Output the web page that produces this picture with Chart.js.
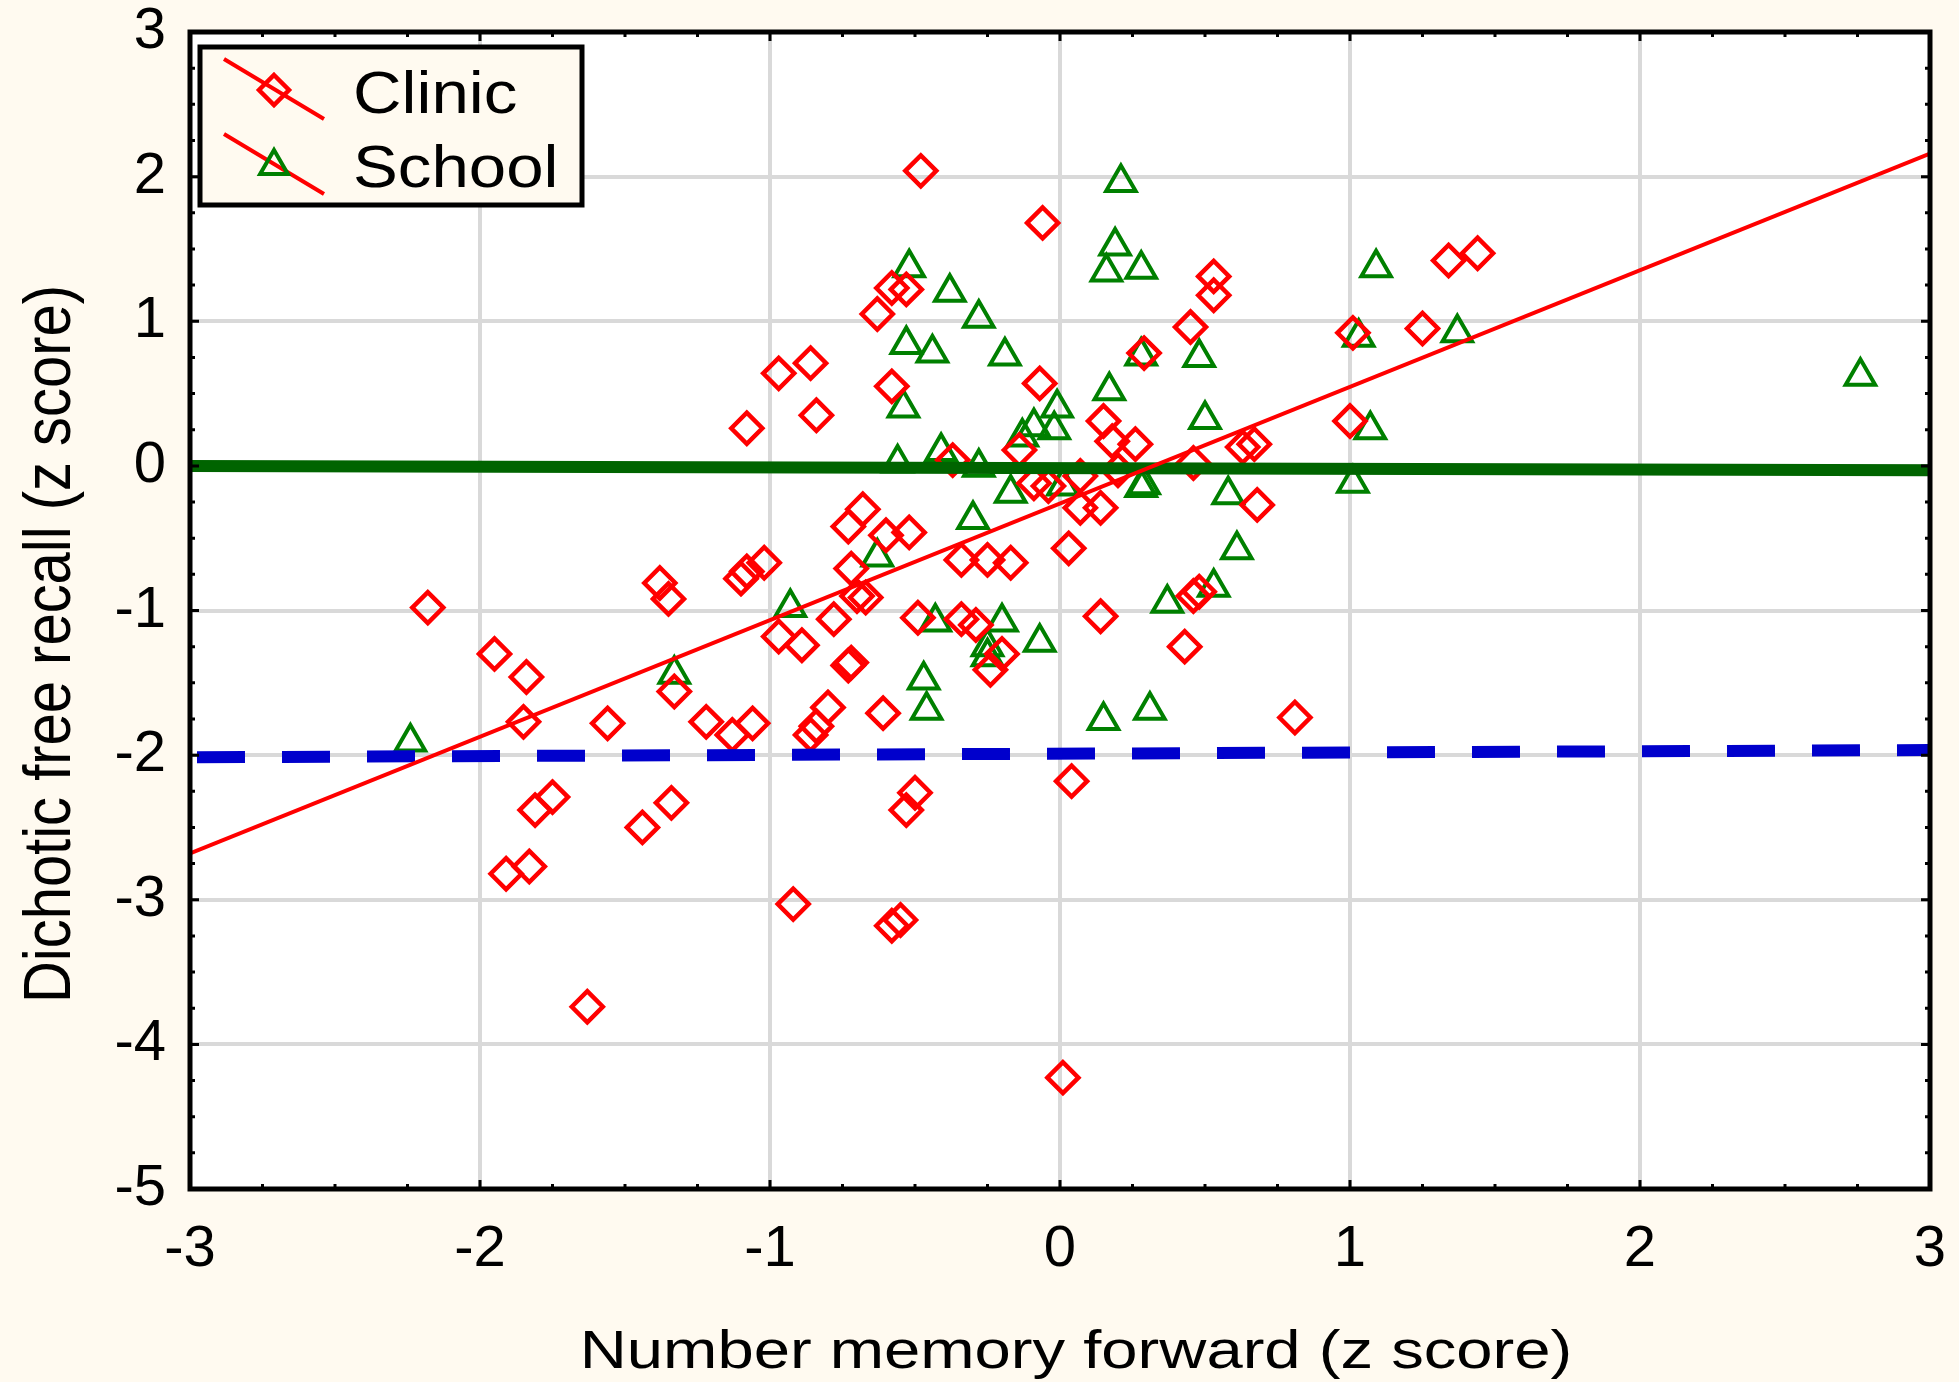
<!DOCTYPE html>
<html>
<head>
<meta charset="utf-8">
<script src="https://cdn.jsdelivr.net/npm/chart.js@4.4.1/dist/chart.umd.min.js"></script>
<style>
    html, body { margin: 0; padding: 0; background: #fffaf0; }
    canvas { display: block; }
</style>
</head>
<body>
<canvas id="GraphiqueRappel" width="1959" height="1382"></canvas>
<script>
var seriesNames = ['Clinic', 'School'];
var xTicks = [-3, -2, -1, 0, 1, 2, 3];
var yTicks = [-5, -4, -3, -2, -1, 0, 1, 2, 3];
var xTitle = 'Number memory forward (z score)';
var yTitle = 'Dichotic free recall (z score)';

// Clinic (red diamonds)
var clinicX = [-0.48, -0.06, -0.58, -0.53, -0.63, -0.97, -0.86, -0.84, -1.08, -0.58,
    -0.07, 0.53, 0.53, 0.45, 0.29, 1.01, 1.25, 1.34, 1.44, 1.00,
    0.15, 0.18, 0.26, -0.14, -0.37, 0.63, 0.67, 0.46, 0.68, -0.09,
    -0.04, 0.07, 0.20, 0.07, 0.14, 0.03, -0.68, -0.73, -0.60, -0.52,
    -0.34, -0.25, -0.17, -0.72, -0.70, -0.67, -1.38, -1.35, -1.10, -1.08,
    -1.02, -0.78, -0.97, -0.89, -0.73, -0.72, -0.49, -0.34, -0.29, -0.20,
    -0.24, 0.14, 0.46, 0.48, 0.43, -1.33, -2.18, -1.95, -1.84, -1.85,
    -1.56, -1.22, -1.13, -1.06, -0.80, -0.84, -0.86, -0.61, 0.81, 0.04,
    -0.50, -0.53, -1.81, -1.75, -1.44, -1.34, -1.91, -1.83, -0.92, -0.58,
    -0.55, -1.63, 0.01];
var clinicY = [2.04, 1.68, 1.23, 1.22, 1.05, 0.64, 0.71, 0.35, 0.26, 0.55,
    0.57, 1.31, 1.18, 0.96, 0.78, 0.92, 0.95, 1.42, 1.47, 0.31,
    0.31, 0.17, 0.15, 0.11, 0.04, 0.13, 0.15, 0.02, -0.27, -0.12,
    -0.14, -0.07, -0.03, -0.29, -0.29, -0.57, -0.30, -0.42, -0.48, -0.46,
    -0.65, -0.65, -0.67, -0.71, -0.90, -0.91, -0.81, -0.92, -0.78, -0.73,
    -0.67, -1.06, -1.18, -1.24, -1.38, -1.36, -1.05, -1.06, -1.10, -1.30,
    -1.41, -1.04, -0.90, -0.87, -1.25, -1.56, -0.98, -1.30, -1.46, -1.77,
    -1.78, -1.77, -1.86, -1.78, -1.67, -1.80, -1.86, -1.71, -1.74, -2.18,
    -2.26, -2.38, -2.38, -2.29, -2.50, -2.33, -2.82, -2.77, -3.03, -3.18,
    -3.14, -3.74, -4.23];

// School (green triangles)
var schoolX = [0.21, 0.19, 0.16, 0.28, -0.52, -0.38, -0.28, -0.53, -0.44, -0.19,
    0.28, 0.48, 0.17, 0.50, -0.54, -0.56, -0.41, -0.28, -0.13, -0.09,
    -0.02, -0.01, -0.17, -0.30, 0.01, 0.28, 0.29, 0.58, 1.09, 1.37,
    1.03, 2.76, 1.07, 1.01, -0.63, -0.93, -0.43, -0.20, -0.25, -0.25,
    -0.07, -0.47, -0.46, -1.33, -2.24, 0.61, 0.53, 0.37, 0.15, 0.31];
var schoolY = [1.96, 1.52, 1.34, 1.36, 1.37, 1.20, 1.02, 0.84, 0.78, 0.76,
    0.76, 0.75, 0.52, 0.32, 0.40, 0.02, 0.10, -0.01, 0.20, 0.27,
    0.25, 0.40, -0.19, -0.37, -0.14, -0.15, -0.13, -0.20, 1.37, 0.92,
    0.89, 0.62, 0.25, -0.12, -0.63, -0.98, -1.08, -1.08, -1.25, -1.32,
    -1.22, -1.48, -1.69, -1.44, -1.91, -0.58, -0.84, -0.95, -1.76, -1.69];

// fitted lines
var fitX = [-3, 3];
var clinicFitY = [-2.68, 2.16];
var schoolFitY = [0.00, -0.03];
var dashFitY = [-2.015, -1.965];

var police = "'Liberation Sans', Arial, sans-serif";

function points(xs, ys) {
    return xs.map(function (x, i) { return { x: x, y: ys[i] }; });
}

// text with a horizontal stretch, like the original export
function texteEtire(ctx, txt, x, y, taille, etire, rotation, align) {
    ctx.save();
    ctx.translate(x, y);
    if (rotation) ctx.rotate(rotation);
    ctx.scale(etire, 1);
    ctx.font = taille + 'px ' + police;
    ctx.fillStyle = '#000000';
    ctx.textBaseline = 'alphabetic';
    ctx.textAlign = align || 'center';
    ctx.fillText(txt, 0, 0);
    ctx.restore();
}

function losange(ctx, x, y, r) {
    ctx.beginPath();
    ctx.moveTo(x, y - r);
    ctx.lineTo(x + r, y);
    ctx.lineTo(x, y + r);
    ctx.lineTo(x - r, y);
    ctx.closePath();
    ctx.stroke();
}

function triangle(ctx, x, y, r) {
    ctx.beginPath();
    ctx.moveTo(x, y - r);
    ctx.lineTo(x + r * Math.sin(2 * Math.PI / 3), y + r / 2);
    ctx.lineTo(x - r * Math.sin(2 * Math.PI / 3), y + r / 2);
    ctx.closePath();
    ctx.stroke();
}

function sansMarge(s) {
    s.paddingTop = 0;
    s.paddingBottom = 0;
    s.paddingLeft = 0;
    s.paddingRight = 0;
}

var cadre = {
    id: 'cadre',
    beforeDraw: function (chart) {
        var ctx = chart.ctx, a = chart.chartArea;
        ctx.save();
        ctx.fillStyle = '#fffaf0';
        ctx.fillRect(0, 0, chart.width, chart.height);
        ctx.fillStyle = '#ffffff';
        ctx.fillRect(a.left, a.top, a.right - a.left, a.bottom - a.top);
        ctx.restore();
    },
    afterDatasetsDraw: function (chart) {
        var ctx = chart.ctx, a = chart.chartArea;
        var sx = chart.scales.x, sy = chart.scales.y;
        ctx.save();
        ctx.strokeStyle = '#000000';
        ctx.lineWidth = 3;
        ctx.beginPath();
        var v, p, l;
        for (v = -3; v <= 3.001; v += 0.25) {
            p = sx.getPixelForValue(v);
            l = Math.abs(v - Math.round(v)) < 0.01 ? 9 : 5;
            ctx.moveTo(p, a.bottom); ctx.lineTo(p, a.bottom - l);
            ctx.moveTo(p, a.top); ctx.lineTo(p, a.top + l);
        }
        for (v = -5; v <= 3.001; v += 0.25) {
            p = sy.getPixelForValue(v);
            l = Math.abs(v - Math.round(v)) < 0.01 ? 9 : 5;
            ctx.moveTo(a.left, p); ctx.lineTo(a.left + l, p);
            ctx.moveTo(a.right, p); ctx.lineTo(a.right - l, p);
        }
        ctx.stroke();
        ctx.lineWidth = 5;
        ctx.strokeRect(a.left, a.top, a.right - a.left, a.bottom - a.top);
        ctx.restore();
    },
    afterDraw: function (chart) {
        var ctx = chart.ctx;
        ctx.save();

        // legend
        ctx.fillStyle = '#fffaf0';
        ctx.fillRect(200, 47, 382, 158);
        ctx.strokeStyle = '#000000';
        ctx.lineWidth = 5;
        ctx.strokeRect(200, 47, 382, 158);

        ctx.strokeStyle = '#ff0000';
        ctx.lineWidth = 4;
        ctx.beginPath();
        ctx.moveTo(224, 59); ctx.lineTo(324, 119);
        ctx.moveTo(224, 134); ctx.lineTo(324, 194);
        ctx.stroke();
        ctx.lineWidth = 4.5;
        losange(ctx, 274, 90, 15);
        ctx.strokeStyle = '#008000';
        ctx.lineWidth = 4;
        triangle(ctx, 274, 166, 16);

        texteEtire(ctx, seriesNames[0], 353, 113, 60, 1.12, 0, 'left');
        texteEtire(ctx, seriesNames[1], 353, 187, 60, 1.12, 0, 'left');

        // axis titles
        texteEtire(ctx, xTitle, 1076, 1368, 53, 1.23, 0, 'center');
        texteEtire(ctx, yTitle, 70, 644, 66, 0.878, -Math.PI / 2, 'center');
        ctx.restore();
    }
};

var ctx = document.getElementById('GraphiqueRappel').getContext('2d');

var graphique = new Chart(ctx, {
    type: 'scatter',
    data: {
        datasets: [
            {
                label: 'Clinic fit',
                data: points(fitX, clinicFitY),
                showLine: true,
                borderColor: '#ff0000',
                borderWidth: 4,
                pointRadius: 0,
                order: 0
            },
            {
                label: 'School fit',
                data: points(fitX, schoolFitY),
                showLine: true,
                borderColor: '#006400',
                borderWidth: 12,
                pointRadius: 0,
                order: 1
            },
            {
                label: 'Reference',
                data: points(fitX, dashFitY),
                showLine: true,
                borderColor: '#0000cc',
                borderWidth: 12,
                borderDash: [48, 37],
                borderDashOffset: -7,
                pointRadius: 0,
                order: 2
            },
            {
                label: seriesNames[0],
                data: points(clinicX, clinicY),
                pointStyle: 'rectRot',
                pointRadius: 15.5,
                pointBorderWidth: 4.5,
                pointBorderColor: '#ff0000',
                pointBackgroundColor: 'rgba(0,0,0,0)',
                order: 3
            },
            {
                label: seriesNames[1],
                data: points(schoolX, schoolY),
                pointStyle: 'triangle',
                pointRadius: 17,
                pointBorderWidth: 4,
                pointBorderColor: '#008000',
                pointBackgroundColor: 'rgba(0,0,0,0)',
                order: 4
            }
        ]
    },
    options: {
        responsive: false,
        devicePixelRatio: 1,
        animation: false,
        events: [],
        layout: { padding: { top: 32, right: 29, bottom: 0, left: 0 } },
        plugins: {
            legend: { display: false },
            tooltip: { enabled: false }
        },
        scales: {
            x: {
                type: 'linear',
                min: -3,
                max: 3,
                afterBuildTicks: function (s) { s.ticks = xTicks.map(function (v) { return { value: v }; }); },
                afterFit: function (s) { s.height = 193; sansMarge(s); },
                border: { display: false },
                grid: { color: '#d9d9d9', lineWidth: 4, drawTicks: false },
                ticks: {
                    color: '#000000',
                    padding: 32,
                    font: { family: police, size: 58, lineHeight: 1 }
                }
            },
            y: {
                type: 'linear',
                min: -5,
                max: 3,
                afterBuildTicks: function (s) { s.ticks = yTicks.map(function (v) { return { value: v }; }); },
                afterFit: function (s) { s.width = 190; sansMarge(s); },
                border: { display: false },
                grid: { color: '#d9d9d9', lineWidth: 4, drawTicks: false },
                ticks: {
                    color: '#000000',
                    padding: 24,
                    font: { family: police, size: 58, lineHeight: 1 }
                }
            }
        }
    },
    plugins: [cadre]
});
</script>
</body>
</html>
